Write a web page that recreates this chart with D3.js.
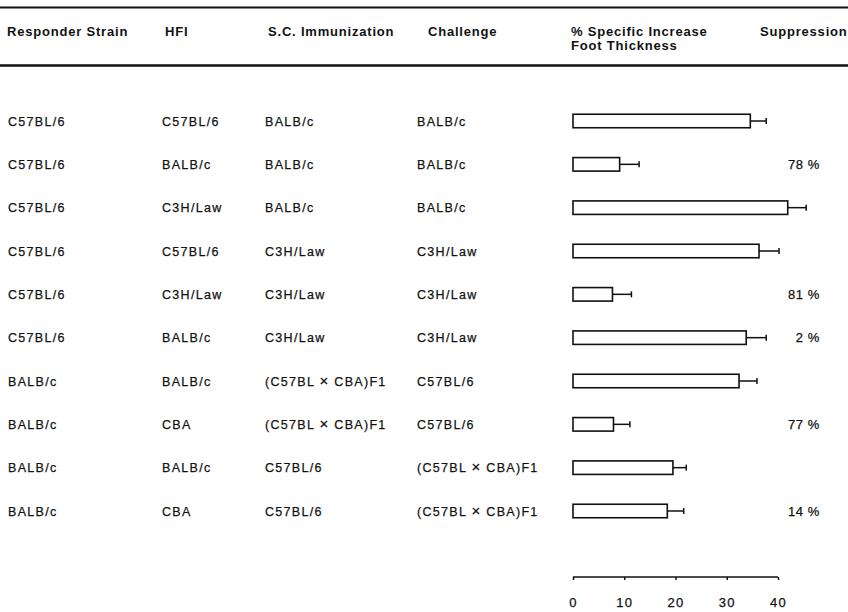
<!DOCTYPE html>
<html>
<head>
<meta charset="utf-8">
<script src="https://cdn.jsdelivr.net/npm/d3@7"></script>
<style>
    body { margin: 0; background: #fff; }
    svg { display: block; font-family: "Liberation Sans", Arial, sans-serif; }
    .head { font-weight: bold; font-size: 13px; letter-spacing: 0.8px; fill: #111; }
    .cell { font-size: 12.5px; letter-spacing: 1.3px; fill: #111; stroke: #111; stroke-width: 0.25px; }
    .cell .times { font-size: 15px; }
    .supp { font-size: 13px; letter-spacing: 0.6px; fill: #111; stroke: #111; stroke-width: 0.25px; }
    .x-axis text { font-size: 13px; letter-spacing: 1.2px; fill: #111; stroke: #111; stroke-width: 0.25px; }
    .x-axis path, .x-axis line { stroke: #111; stroke-width: 1.5; }
</style>
</head>
<body>
<svg width="848" height="612"></svg>
<script>
// table columns, one entry per row
const responders = ["C57BL/6","C57BL/6","C57BL/6","C57BL/6","C57BL/6","C57BL/6","BALB/c","BALB/c","BALB/c","BALB/c"]
const hfi = ["C57BL/6","BALB/c","C3H/Law","C57BL/6","C3H/Law","BALB/c","BALB/c","CBA","BALB/c","CBA"]
const immunization = ["BALB/c","BALB/c","BALB/c","C3H/Law","C3H/Law","C3H/Law","(C57BL \u00d7 CBA)F1","(C57BL \u00d7 CBA)F1","C57BL/6","C57BL/6"]
const challenge = ["BALB/c","BALB/c","BALB/c","C3H/Law","C3H/Law","C3H/Law","C57BL/6","C57BL/6","(C57BL \u00d7 CBA)F1","(C57BL \u00d7 CBA)F1"]
// % specific increase in foot thickness and its error
const increase = [34.6, 9.1, 41.9, 36.3, 7.7, 33.8, 32.4, 7.9, 19.5, 18.4]
const errors = [3.1, 3.8, 3.6, 3.9, 3.7, 3.9, 3.5, 3.2, 2.6, 3.2]
const suppression = ["", "78 %", "", "", "81 %", "2 %", "", "77 %", "", "14 %"]
const ticks = [0, 10, 20, 30, 40]

const data = increase.map((v,i) => {
    return {
        row: i,
        responder: responders[i],
        hfi: hfi[i],
        immunization: immunization[i],
        challenge: challenge[i],
        value: v,
        err: errors[i],
        supp: suppression[i]
    }
})

const svg = d3.select("svg")

// header rules
svg.append("line")
    .attr("x1",0).attr("x2",848)
    .attr("y1",7.5).attr("y2",7.5)
    .attr("stroke","#111")
    .attr("stroke-width",2)
svg.append("line")
    .attr("x1",0).attr("x2",848)
    .attr("y1",65.5).attr("y2",65.5)
    .attr("stroke","#111")
    .attr("stroke-width",2.5)

const headers = [
    {text:"Responder Strain", x:7},
    {text:"HFI", x:165},
    {text:"S.C. Immunization", x:268},
    {text:"Challenge", x:428},
    {text:"% Specific Increase", x:571},
    {text:"Suppression", x:760}
]
svg.selectAll("text.head")
    .data(headers)
    .enter()
    .append("text")
    .attr("class","head")
    .attr("x",d => d.x)
    .attr("y",36)
    .text(d => d.text)
svg.append("text")
    .attr("class","head")
    .attr("x",571)
    .attr("y",49.5)
    .text("Foot Thickness")

const scaleY = d3.scalePoint()
    .domain(data.map(d => d.row))
    .range([121,511])

const scaleX = d3.scaleLinear()
    .domain([0,40])
    .range([573,778])

const columns = [
    {key:"responder", x:8},
    {key:"hfi", x:162},
    {key:"immunization", x:265},
    {key:"challenge", x:417}
]

const rowGroup = svg.selectAll("g.row")
    .data(data)
    .enter()
    .append("g")
    .attr("class","row")
    .attr("transform",d => `translate(0,${scaleY(d.row)})`)

columns.forEach(col => {
    const label = rowGroup.append("text")
        .attr("class","cell")
        .attr("x",col.x)
        .attr("y",0)
        .attr("dy","0.36em")
    // split around the cross so it can be drawn larger, like the print
    label.each(function(d){
        const parts = d[col.key].split("\u00d7")
        const t = d3.select(this)
        parts.forEach((p,i) => {
            if (i > 0) t.append("tspan").attr("class","times").text("\u00d7")
            t.append("tspan").text(p)
        })
    })
})

// error bars first so the bar outline sits on top
rowGroup.append("line")
    .attr("x1",d => scaleX(d.value))
    .attr("x2",d => scaleX(d.value + d.err))
    .attr("y1",0).attr("y2",0)
    .attr("stroke","#111")
    .attr("stroke-width",1.5)
rowGroup.append("line")
    .attr("x1",d => scaleX(d.value + d.err))
    .attr("x2",d => scaleX(d.value + d.err))
    .attr("y1",-3).attr("y2",3)
    .attr("stroke","#111")
    .attr("stroke-width",1.5)

rowGroup.append("rect")
    .attr("x",scaleX(0))
    .attr("y",-6.75)
    .attr("width",d => scaleX(d.value) - scaleX(0))
    .attr("height",13.5)
    .attr("fill","#fff")
    .attr("stroke","#111")
    .attr("stroke-width",1.6)

rowGroup.append("text")
    .attr("class","supp")
    .attr("x",820)
    .attr("y",0)
    .attr("dy","0.36em")
    .attr("text-anchor","end")
    .text(d => d.supp)

const axisX = d3.axisBottom(scaleX)
    .tickValues(ticks)
    .tickFormat(d3.format("d"))
    .tickSize(3)
    .tickSizeOuter(3)
    .tickPadding(18)

svg.append("g")
    .attr("class","x-axis")
    .attr("transform","translate(0,577)")
    .call(axisX)
    .call(g => g.select(".domain").attr("d",`M${scaleX(0)},0H${scaleX(40)}`))
</script>
</body>
</html>
